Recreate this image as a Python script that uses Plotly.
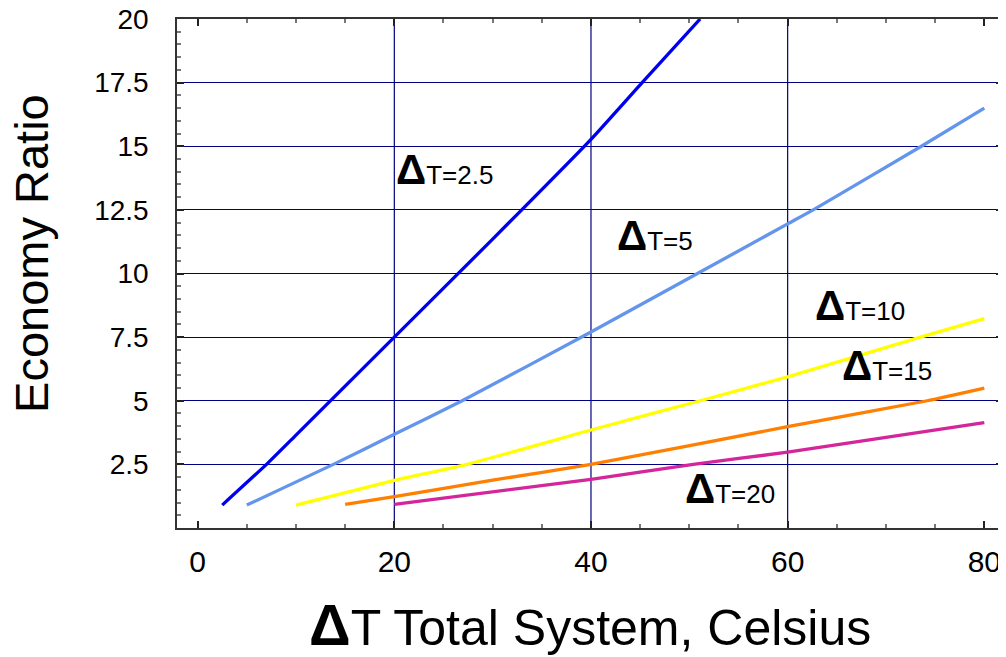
import plotly.graph_objects as go

# ─── Data ────────────────────────────────────────────────────────────────────
dt_2_5_x = [2.5, 7.0, 10, 20, 30, 40, 45.2, 51.1]
dt_2_5_y = [0.9, 2.5, 3.65, 7.5, 11.35, 15.27, 17.5, 20.0]

dt_5_x = [5, 13.8, 20, 26.9, 40, 60, 62.6, 73.6, 80]
dt_5_y = [0.9, 2.5, 3.68, 5.0, 7.7, 11.95, 12.5, 15.0, 16.5]

dt_10_x = [10, 20, 27.4, 40, 51.1, 60, 73.5, 80]
dt_10_y = [0.9, 1.87, 2.5, 3.85, 5.0, 5.94, 7.5, 8.23]

dt_15_x = [15, 20, 30, 40, 60, 74.2, 80]
dt_15_y = [0.93, 1.23, 1.88, 2.5, 3.98, 5.0, 5.5]

dt_20_x = [20, 40, 50.4, 60, 80]
dt_20_y = [0.93, 1.91, 2.5, 2.98, 4.14]

series_names = ["2.5", "5", "10", "15", "20"]
label_x = [20.0, 42.4, 62.6, 65.3, 49.4]
label_y = [14.1, 11.5, 8.75, 6.4, 1.55]

x_ticks = [0, 20, 40, 60, 80]
x_grid = [20, 40, 60]
y_ticks = [2.5, 5, 7.5, 10, 12.5, 15, 17.5, 20]

COLORS = ["#0000F0", "#6495ED", "#FFFF00", "#FF7F00", "#D4259A"]
FONT = "Liberation Sans, Arial, sans-serif"

fig = go.Figure()
for (xs, ys), color, name in zip(
    [(dt_2_5_x, dt_2_5_y), (dt_5_x, dt_5_y), (dt_10_x, dt_10_y),
     (dt_15_x, dt_15_y), (dt_20_x, dt_20_y)],
    COLORS, series_names,
):
    fig.add_trace(go.Scatter(
        x=xs, y=ys, mode="lines", name=f"ΔT={name}",
        line=dict(color=color, width=3.3, shape="spline", smoothing=0.4),
    ))

# curve labels
for name, lx, ly in zip(series_names, label_x, label_y):
    fig.add_annotation(
        x=lx, y=ly, xref="x", yref="y", xanchor="left", yanchor="middle",
        text=f"<span style='font-size:42px;font-weight:bold'>Δ</span>T={name}",
        showarrow=False, font=dict(family=FONT, size=26, color="black"),
    )

# vertical grid only at the interior ticks
for gx in x_grid:
    fig.add_shape(type="line", xref="x", yref="paper", x0=gx, x1=gx, y0=0, y1=1,
                  line=dict(color="#000080", width=1.2), layer="below")

# axis titles
fig.add_annotation(
    x=0.5, y=-0.19, xref="paper", yref="paper", xanchor="center", yanchor="middle",
    text="<span style='font-size:58px;font-weight:bold'>Δ</span>T Total System, Celsius",
    showarrow=False, font=dict(family=FONT, size=50, color="black"),
)
fig.add_annotation(
    x=-0.177, y=0.54, xref="paper", yref="paper", xanchor="center", yanchor="middle",
    text="Economy Ratio", textangle=-90,
    showarrow=False, font=dict(family=FONT, size=47, color="black"),
)

# page body adds an 8px offset, so the figure is 8px smaller than the window
fig.update_layout(
    width=998, height=649,
    paper_bgcolor="white", plot_bgcolor="white",
    margin=dict(l=169, r=3, t=11, b=129),
    showlegend=False,
    font=dict(family=FONT, color="black"),
)
fig.update_xaxes(
    range=[-2.1, 81.9], tickvals=x_ticks, ticktext=[str(v) for v in x_ticks],
    showgrid=False, zeroline=False, automargin=False,
    showline=True, linecolor="#333333", linewidth=1.5, mirror="ticks",
    ticks="inside", ticklen=7, tickcolor="#222222", tickwidth=1.5,
    tickfont=dict(family=FONT, size=30), ticklabelstandoff=6,
    minor=dict(dtick=5, ticks="inside", ticklen=4, tickcolor="#777777", showgrid=False),
)
fig.update_yaxes(
    range=[0, 20], tickvals=y_ticks, ticktext=[f"{v:g}" for v in y_ticks],
    showgrid=True, gridcolor="#000080", gridwidth=1.2, zeroline=False, automargin=False,
    showline=True, linecolor="#333333", linewidth=1.5, mirror="ticks",
    ticks="inside", ticklen=7, tickcolor="#222222", tickwidth=1.5,
    tickfont=dict(family=FONT, size=28), ticklabelstandoff=21,
    ticklabeloverflow="allow",
    minor=dict(dtick=0.5, ticks="inside", ticklen=4, tickcolor="#777777", showgrid=False),
)

fig.write_html("out.html")
